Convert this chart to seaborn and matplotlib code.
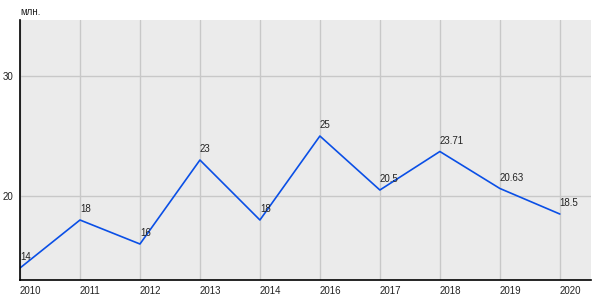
import matplotlib
matplotlib.use("Agg")
import matplotlib.pyplot as plt
import seaborn as sns
import pandas as pd

years = ["2010", "2011", "2012", "2013", "2014", "2016", "2017", "2018", "2019", "2020"]
values = [14, 18, 16, 23, 18, 25, 20.5, 23.71, 20.63, 18.5]
labels = ["14", "18", "16", "23", "18", "25", "20.5", "23.71", "20.63", "18.5"]
y_ticks = [20, 30]
unit = "млн."

sns.set_style("white")
plt.rcParams['font.family'] = ['Liberation Sans', 'DejaVu Sans']

df = pd.DataFrame({"year": years, "value": values})
df["pos"] = range(len(df))

fig = plt.figure(figsize=(6, 3), dpi=100)
ax = fig.add_axes([20/600, 20/300, 571/600, 260/300])
ax.set_facecolor("#ebebeb")

sns.lineplot(data=df, x="pos", y="value", ax=ax, color="#0a4fe6", linewidth=1.2)

for p, v, t in zip(df["pos"], values, labels):
    ax.annotate(t, (p, v), xytext=(0, 4), textcoords="offset points",
                ha="left", va="bottom", fontsize=7, color="#222222")

ax.set_xlim(0, 9.52)
ax.set_ylim(13, 34.67)
ax.set_xticks(df["pos"])
ax.set_xticklabels(years, ha="left")
ax.set_yticks(y_ticks)
ax.set_yticklabels([str(t) for t in y_ticks])
ax.grid(True, color="#c8c8c8", linewidth=1)
ax.set_axisbelow(True)
for s in ["top", "right"]:
    ax.spines[s].set_visible(False)
for s in ["left", "bottom"]:
    ax.spines[s].set_color("black")
    ax.spines[s].set_linewidth(1.2)
ax.tick_params(axis="x", length=0, pad=4, labelsize=7, colors="#222222")
ax.tick_params(axis="y", length=3, width=1, pad=2, labelsize=7, colors="#222222")
ax.tick_params(axis="y", color="black")
ax.set_xlabel("")
ax.set_ylabel("")
fig.text(20/600, 1 - 12/300, unit, fontsize=7, ha="left", va="center", color="#222222")

fig.savefig("out.png", dpi=100)
